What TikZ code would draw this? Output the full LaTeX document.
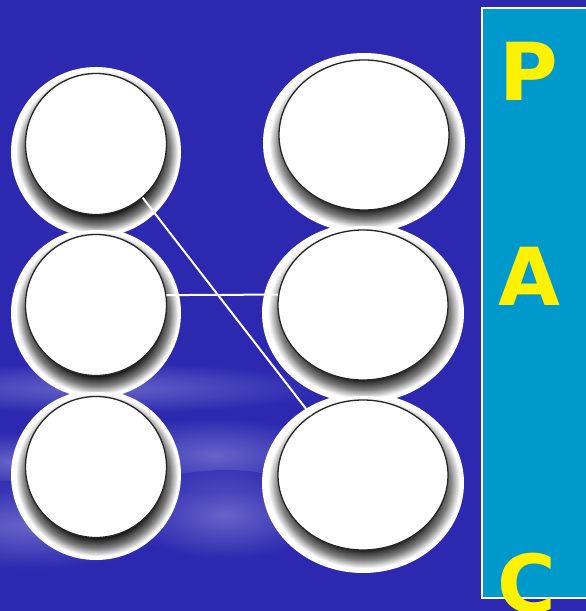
\documentclass[tikz,border=0pt]{standalone}
\usepackage{fontspec}
\setmainfont{DejaVu Sans}
\usetikzlibrary{shapes.geometric}
\definecolor{bgblue}{RGB}{44,40,176}
\definecolor{panel}{RGB}{0,153,204}
\definecolor{streak}{RGB}{150,150,220}
\pgfdeclareradialshading{holeshade}{\pgfpoint{0bp}{0bp}}{color(0bp)=(black); color(19bp)=(black!90); color(22bp)=(black!50); color(24.5bp)=(white); color(50bp)=(white)}

\begin{document}
\begin{tikzpicture}[x=1pt,y=-1pt,
  hole/.style={circle,draw=black!85,line width=1.3pt,fill=white,inner sep=0pt,minimum size=141pt},
  bighole/.style={ellipse,draw=black!85,line width=1.3pt,fill=white,inner sep=0pt,minimum width=170pt,minimum height=150pt},
  haze/.style={inner color=streak,outer color=bgblue,opacity=0.55},
  letter/.style={text=yellow,font=\bfseries\fontsize{80}{80}\selectfont,anchor=base,inner sep=0pt},
  wire/.style={white,line width=2pt}]
\clip (0,0) rectangle (586,611);
\fill[bgblue] (0,0) rectangle (586,611);

\shade[haze] (100,388) ellipse (230pt and 26pt);
\shade[haze] (215,455) ellipse (120pt and 38pt);
\shade[haze] (10,462) ellipse (70pt and 30pt);
\shade[haze] (30,525) ellipse (140pt and 45pt);
\shade[haze] (225,515) ellipse (100pt and 45pt);

\fill[white] (96,152) circle (85pt);
\fill[white] (96,313) circle (85pt);
\fill[white] (96,475) circle (85pt);
\fill[white] (364,143) ellipse (101pt and 90pt);
\fill[white] (363,313) ellipse (101pt and 90pt);
\fill[white] (363,483) ellipse (101pt and 90pt);

\shade[shading=holeshade] (97,152) circle (83pt);
\shade[shading=holeshade] (97,313) circle (83pt);
\shade[shading=holeshade] (97,475) circle (83pt);
\shade[shading=holeshade] (365,143) ellipse (98pt and 87pt);
\shade[shading=holeshade] (364,313) ellipse (98pt and 87pt);
\shade[shading=holeshade] (364,483) ellipse (98pt and 87pt);

\node[hole] (l1) at (96,144) {};
\node[hole] (l2) at (96,305) {};
\node[hole] (l3) at (96,467) {};
\node[bighole] (r1) at (364,135) {};
\node[bighole] (r2) at (363,305) {};
\node[bighole] (r3) at (363,475) {};

\draw[wire] (l1.-49) -- (r3.131);
\draw[wire] (l2.8) -- (r2.173);

\draw[white,line width=2pt,fill=panel] (482,8) rectangle (595,598);
\node[letter] (p) at (529,100) {P};
\node[letter] (a) at (529,305) {A};
\node[letter] (c) at (527,612) {C};
\end{tikzpicture}
\end{document}
